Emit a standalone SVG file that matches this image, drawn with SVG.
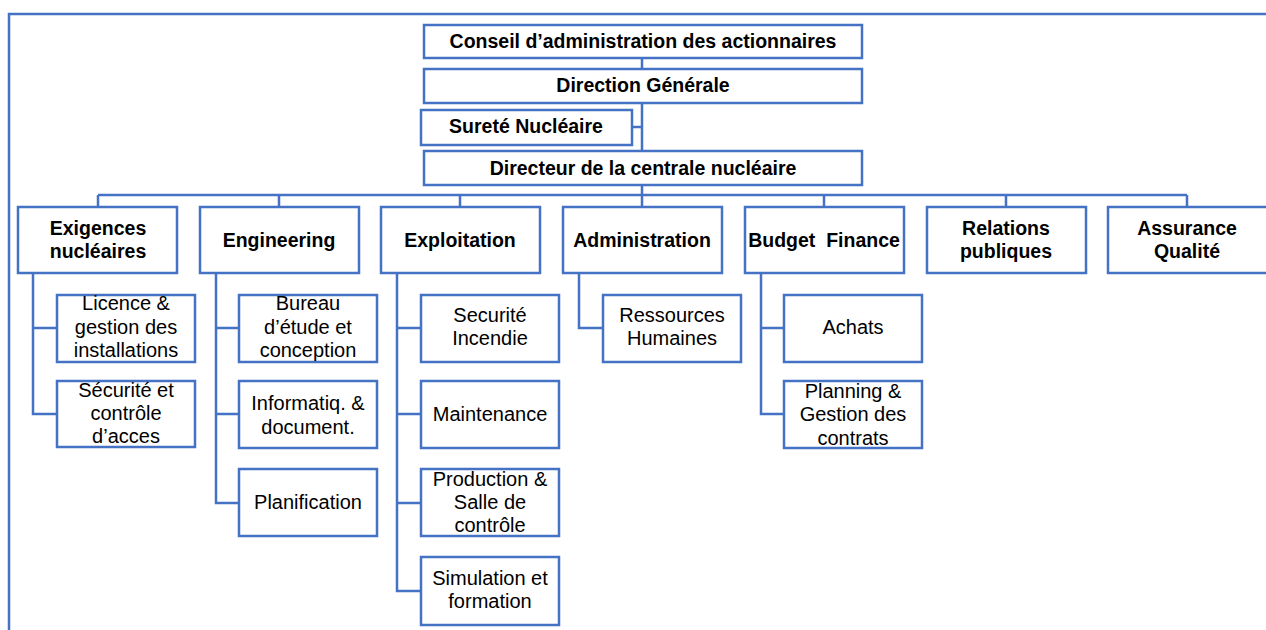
<svg xmlns="http://www.w3.org/2000/svg" width="1266" height="630" viewBox="0 0 1266 630">
<style>
.b{fill:#fff;stroke:#4472C4;stroke-width:2.5}
.c{fill:none;stroke:#4472C4;stroke-width:2.5}
text{font-family:"Liberation Sans",Arial,sans-serif;font-size:20px;fill:#000;text-anchor:middle}
.t{font-weight:bold;font-size:19.5px}
</style>
<rect width="1266" height="630" fill="#fff"/>
<path class="c" d="M9,630 V14 H1266"/>
<g id="connectors" class="c">
<path d="M642,58 V69 M642,103 V151 M632,127 H642 M642,185 V195 M98,195 H1187 M98,195 V207 M279,195 V207 M460,195 V207 M642,195 V207 M824,195 V207 M1006,195 V207 M1187,195 V207"/>
<path d="M33,273 V414 H57 M33,328 H57"/>
<path d="M216,273 V503 H239 M216,328 H239 M216,414 H239"/>
<path d="M397,273 V591 H421 M397,328 H421 M397,414 H421 M397,503 H421"/>
<path d="M579,273 V328 H603"/>
<path d="M761,273 V414 H784 M761,328 H784"/>
</g>
<g id="conseil"><rect class="b" x="424" y="25" width="438" height="33"/><text class="t" x="643" y="48">Conseil d’administration des actionnaires</text></g>
<g id="direction"><rect class="b" x="424" y="69" width="438" height="34"/><text class="t" x="643" y="92">Direction Générale</text></g>
<g id="surete"><rect class="b" x="421" y="110" width="211" height="35"/><text class="t" x="526" y="133">Sureté Nucléaire</text></g>
<g id="directeur"><rect class="b" x="424" y="151" width="438" height="34"/><text class="t" x="643" y="175">Directeur de la centrale nucléaire</text></g>
<g id="exigences"><rect class="b" x="18" y="207" width="159" height="66"/><text class="t" x="98" y="235">Exigences</text><text class="t" x="98" y="258">nucléaires</text></g>
<g id="engineering"><rect class="b" x="200" y="207" width="159" height="66"/><text class="t" x="279" y="247">Engineering</text></g>
<g id="exploitation"><rect class="b" x="381" y="207" width="159" height="66"/><text class="t" x="460" y="247">Exploitation</text></g>
<g id="administration"><rect class="b" x="563" y="207" width="159" height="66"/><text class="t" x="642" y="247">Administration</text></g>
<g id="budget"><rect class="b" x="745" y="207" width="159" height="66"/><text class="t" x="824" y="247" style="white-space:pre">Budget  Finance</text></g>
<g id="relations"><rect class="b" x="927" y="207" width="159" height="66"/><text class="t" x="1006" y="235">Relations</text><text class="t" x="1006" y="258">publiques</text></g>
<g id="assurance"><rect class="b" x="1108" y="207" width="160" height="66"/><text class="t" x="1187" y="235">Assurance</text><text class="t" x="1187" y="258">Qualité</text></g>
<g id="licence"><rect class="b" x="57" y="295" width="138" height="67"/><text x="126" y="310">Licence &amp;</text><text x="126" y="334">gestion des</text><text x="126" y="357">installations</text></g>
<g id="securite-controle"><rect class="b" x="57" y="381" width="138" height="66"/><text x="126" y="397">Sécurité et</text><text x="126" y="420">contrôle</text><text x="126" y="443">d’acces</text></g>
<g id="bureau"><rect class="b" x="239" y="295" width="138" height="67"/><text x="308" y="310">Bureau</text><text x="308" y="334">d’étude et</text><text x="308" y="357">conception</text></g>
<g id="informatiq"><rect class="b" x="239" y="381" width="138" height="67"/><text x="308" y="410">Informatiq. &amp;</text><text x="308" y="434">document.</text></g>
<g id="planification"><rect class="b" x="239" y="469" width="138" height="67"/><text x="308" y="509">Planification</text></g>
<g id="incendie"><rect class="b" x="421" y="295" width="138" height="67"/><text x="490" y="322">Securité</text><text x="490" y="345">Incendie</text></g>
<g id="maintenance"><rect class="b" x="421" y="381" width="138" height="67"/><text x="490" y="421">Maintenance</text></g>
<g id="production"><rect class="b" x="421" y="469" width="138" height="67"/><text x="490" y="486">Production &amp;</text><text x="490" y="509">Salle de</text><text x="490" y="532">contrôle</text></g>
<g id="simulation"><rect class="b" x="421" y="557" width="138" height="68"/><text x="490" y="585">Simulation et</text><text x="490" y="608">formation</text></g>
<g id="ressources"><rect class="b" x="603" y="295" width="138" height="67"/><text x="672" y="322">Ressources</text><text x="672" y="345">Humaines</text></g>
<g id="achats"><rect class="b" x="784" y="295" width="138" height="67"/><text x="853" y="334">Achats</text></g>
<g id="planning"><rect class="b" x="784" y="381" width="138" height="67"/><text x="853" y="398">Planning &amp;</text><text x="853" y="421">Gestion des</text><text x="853" y="445">contrats</text></g>
</svg>
